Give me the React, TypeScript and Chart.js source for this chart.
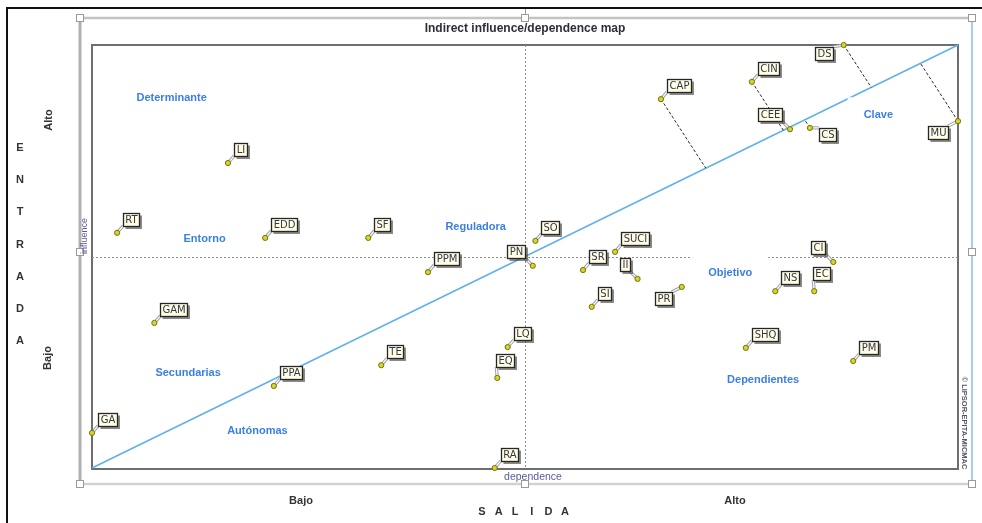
import React, { useEffect, useRef } from 'react';
import { Chart, registerables } from 'chart.js';

Chart.register(...registerables);

// ---- data (dependence = x, influence = y, both on a 0..100 scale) ----
const variables = ['LI', 'RT', 'EDD', 'SF', 'PPM', 'GAM', 'PPA', 'TE', 'GA', 'RA', 'EQ', 'LQ', 'PN', 'SO', 'SR', 'SUCI', 'II', 'SI', 'PR', 'CAP', 'CIN', 'CEE', 'CS', 'DS', 'MU', 'CI', 'NS', 'EC', 'SHQ', 'PM'];
const dependence = [15.7, 2.9, 20.0, 31.9, 38.8, 7.2, 21.0, 33.4, 0, 46.5, 46.8, 48.0, 50.9, 51.2, 56.7, 60.4, 63.0, 57.7, 68.1, 65.7, 76.2, 80.6, 82.9, 86.8, 100, 85.6, 78.9, 83.4, 75.5, 87.9];
const influence = [72.1, 55.6, 54.4, 54.4, 46.3, 34.3, 19.4, 24.3, 8.3, 0, 21.3, 28.6, 47.8, 53.7, 46.8, 51.1, 44.7, 38.1, 42.8, 87.2, 91.3, 80.1, 80.4, 100, 82.0, 48.7, 41.8, 41.8, 28.4, 25.3];
// label placement relative to each point
const labelSide = ['ur', 'ur', 'ur', 'ur', 'ur', 'ur', 'ur', 'ur', 'ur', 'ur', 'u', 'ur', 'ul', 'ur', 'ur', 'ur', 'ul', 'ur', 'dl', 'ur', 'ur', 'ul', 'r', 'l', 'dl', 'ul', 'ur', 'u', 'ur', 'ur'];
const keyVariables = ['CAP', 'CIN', 'CS', 'DS', 'MU'];

const zoneNames = ['Determinante', 'Entorno', 'Reguladora', 'Clave', 'Objetivo', 'Secundarias', 'Autónomas', 'Dependientes'];
const zoneX = [9.2, 13.0, 44.3, 90.8, 73.7, 11.1, 19.1, 77.5];
const zoneY = [87.5, 54.2, 57.0, 83.5, 46.0, 22.5, 8.8, 20.8];

const chartTitle = 'Indirect influence/dependence map';
const verticalAxisLetters = ['E', 'N', 'T', 'R', 'A', 'D', 'A'];
const horizontalAxisLetters = ['S', 'A', 'L', 'I', 'D', 'A'];
const levelLow = 'Bajo';
const levelHigh = 'Alto';
const xAxisName = 'dependence';
const yAxisName = 'influence';
const credit = '© LIPSOR-EPITA-MICMAC';

const W = 982;
const H = 523;

function line(ctx: CanvasRenderingContext2D, x1: number, y1: number, x2: number, y2: number) {
  ctx.beginPath();
  ctx.moveTo(x1, y1);
  ctx.lineTo(x2, y2);
  ctx.stroke();
}

function rotText(ctx: CanvasRenderingContext2D, text: string, x: number, y: number, angle: number) {
  ctx.save();
  ctx.translate(x, y);
  ctx.rotate(angle);
  ctx.fillText(text, 0, 0);
  ctx.restore();
}

function handle(ctx: CanvasRenderingContext2D, x: number, y: number) {
  ctx.fillStyle = '#ffffff';
  ctx.strokeStyle = '#9a9a9a';
  ctx.lineWidth = 1;
  ctx.fillRect(x - 3.5, y - 3.5, 7, 7);
  ctx.strokeRect(x - 3.5, y - 3.5, 7, 7);
}

const decorPlugin = {
  id: 'micmacDecor',
  beforeDraw(chart: any) {
    const ctx: CanvasRenderingContext2D = chart.ctx;
    const a = chart.chartArea;
    const xs = chart.scales.x;
    const ys = chart.scales.y;
    ctx.save();
    ctx.fillStyle = '#ffffff';
    ctx.fillRect(0, 0, W, H);

    // outer black frame (top and left)
    ctx.strokeStyle = '#111111';
    ctx.lineWidth = 2;
    ctx.beginPath();
    ctx.moveTo(7, H);
    ctx.lineTo(7, 8);
    ctx.lineTo(W, 8);
    ctx.stroke();

    // small connector tick above the frame
    ctx.strokeStyle = '#9a9a9a';
    ctx.lineWidth = 1;
    line(ctx, 525.5, 9, 525.5, 15);

    // selection frame
    const fl = 80, fr = 972, ft = 18, fb = 484;
    ctx.strokeStyle = '#c4c4c4';
    ctx.lineWidth = 2.5;
    line(ctx, fl, ft, fr, ft);
    ctx.strokeStyle = '#d2d2d2';
    line(ctx, fl, fb, fr, fb);
    ctx.strokeStyle = '#b0b0b0';
    ctx.lineWidth = 3;
    line(ctx, fl, ft, fl, fb);
    ctx.strokeStyle = '#a9cdf0';
    ctx.lineWidth = 2;
    line(ctx, fr, ft, fr, fb);
    handle(ctx, fl, ft);
    handle(ctx, 525, ft);
    handle(ctx, fr, ft);
    handle(ctx, fl, 252);
    handle(ctx, fr, 252);
    handle(ctx, fl, fb);
    handle(ctx, 525, fb);
    handle(ctx, fr, fb);

    // plot border
    ctx.strokeStyle = '#6e6e6e';
    ctx.lineWidth = 2;
    ctx.strokeRect(a.left, a.top, a.right - a.left, a.bottom - a.top + 1);

    // crosshair
    const cx = Math.round(xs.getPixelForValue(50)) + 0.5;
    const cy = Math.round(ys.getPixelForValue(50)) + 0.5;
    ctx.setLineDash([2, 2]);
    ctx.strokeStyle = '#8c8c8c';
    ctx.lineWidth = 1;
    line(ctx, cx, a.top, cx, a.bottom);
    line(ctx, a.left, cy, a.right, cy);
    ctx.setLineDash([]);

    // title
    ctx.fillStyle = '#2e2e3a';
    ctx.font = 'bold 12px "Liberation Sans", Arial, sans-serif';
    ctx.textAlign = 'center';
    ctx.textBaseline = 'middle';
    ctx.fillText(chartTitle, 525, 29);

    // outer axis texts
    ctx.fillStyle = '#333333';
    ctx.font = 'bold 11px "Liberation Sans", Arial, sans-serif';
    rotText(ctx, levelHigh, 49, 120, -Math.PI / 2);
    rotText(ctx, levelLow, 48, 358, -Math.PI / 2);
    ctx.fillText(levelLow, 301, 501);
    ctx.fillText(levelHigh, 735, 501);
    verticalAxisLetters.forEach((ch, i) => ctx.fillText(ch, 20, 148 + i * 32.2));
    horizontalAxisLetters.forEach((ch, i) => ctx.fillText(ch, 482 + i * 16.6, 512));

    // axis names
    ctx.fillStyle = '#5a5a9c';
    ctx.font = '10.5px "Liberation Sans", Arial, sans-serif';
    ctx.fillText(xAxisName, 533, 477);
    ctx.font = '9px "Liberation Sans", Arial, sans-serif';
    rotText(ctx, yAxisName, 85, 236, -Math.PI / 2);
    ctx.fillStyle = '#55556a';
    ctx.font = 'bold 7.5px "Liberation Sans", Arial, sans-serif';
    rotText(ctx, credit, 964, 423, Math.PI / 2);
    ctx.restore();
  },
  afterDatasetDraw(chart: any, args: any) {
    if (args.index !== 0) return;
    const ctx: CanvasRenderingContext2D = chart.ctx;
    const xs = chart.scales.x;
    const ys = chart.scales.y;
    ctx.save();

    // zone names with white backing
    ctx.font = 'bold 11px "Liberation Sans", Arial, sans-serif';
    ctx.textAlign = 'center';
    ctx.textBaseline = 'middle';
    zoneNames.forEach((name, i) => {
      const px = xs.getPixelForValue(zoneX[i]);
      const py = ys.getPixelForValue(zoneY[i]);
      const w = ctx.measureText(name).width + 32;
      ctx.fillStyle = '#ffffff';
      ctx.fillRect(px - w / 2, py - 17.5, w, 35);
      ctx.fillStyle = '#3b7fe6';
      ctx.fillText(name, px, py);
    });

    // dashed links from key variables to the diagonal
    const ax = xs.getPixelForValue(0), ay = ys.getPixelForValue(0);
    const bx = xs.getPixelForValue(100), by = ys.getPixelForValue(100);
    const dx = bx - ax, dy = by - ay;
    const th = (57 * Math.PI) / 180;
    const ux = Math.cos(th), uy = Math.sin(th);
    ctx.setLineDash([3, 2]);
    ctx.strokeStyle = '#2a2a2a';
    ctx.lineWidth = 1;
    variables.forEach((v, i) => {
      if (!keyVariables.includes(v)) return;
      const px = xs.getPixelForValue(dependence[i]);
      const py = ys.getPixelForValue(influence[i]);
      const c = dx * (py - ay) - dy * (px - ax);
      const t = -c / (dx * uy - dy * ux);
      line(ctx, px, py, px + t * ux, py + t * uy);
    });
    ctx.setLineDash([]);

    // labels
    ctx.font = '10px "DejaVu Sans", Verdana, sans-serif';
    const h = 13;
    variables.forEach((v, i) => {
      const px = xs.getPixelForValue(dependence[i]);
      const py = ys.getPixelForValue(influence[i]);
      const w = Math.round(ctx.measureText(v).width + 4);
      let bx0 = 0, by0 = 0, lx = 0, ly = 0;
      switch (labelSide[i]) {
        case 'ul': bx0 = px - 8 - w; by0 = py - 8 - h; lx = px - 8; ly = py - 8; break;
        case 'dl': bx0 = px - 10 - w; by0 = py + 5; lx = px - 10; ly = py + 5; break;
        case 'l': bx0 = px - 11 - w; by0 = py + 2; lx = px - 11; ly = py + 2; break;
        case 'r': bx0 = px + 9; by0 = py; lx = px + 9; ly = py; break;
        case 'u': bx0 = px - 1; by0 = py - 11 - h; lx = px - 1; ly = py - 11; break;
        default: bx0 = px + 6; by0 = py - 7 - h; lx = px + 6; ly = py - 7;
      }
      bx0 = Math.round(bx0) + 0.5;
      by0 = Math.round(by0) + 0.5;
      // leader
      ctx.strokeStyle = '#a0a0a0';
      ctx.lineWidth = 3.2;
      line(ctx, px, py, lx, ly);
      ctx.strokeStyle = '#ffffff';
      ctx.lineWidth = 1.2;
      line(ctx, px, py, lx, ly);
      // shadow
      ctx.fillStyle = 'rgba(60,60,60,0.6)';
      ctx.fillRect(bx0 + 2, by0 + 2, w + 0.5, h + 0.5);
      // box
      ctx.fillStyle = '#fffde2';
      ctx.fillRect(bx0, by0, w, h);
      ctx.strokeStyle = '#262626';
      ctx.lineWidth = 1.3;
      ctx.strokeRect(bx0, by0, w, h);
      ctx.fillStyle = '#34344e';
      ctx.fillText(v, bx0 + w / 2, by0 + h / 2 + 0.5);
    });
    ctx.restore();
  },
};

export default function App() {
  const ref = useRef<HTMLCanvasElement | null>(null);
  useEffect(() => {
    if (!ref.current) return;
    const points = variables.map((v, i) => ({ x: dependence[i], y: influence[i] }));
    const chart = new Chart(ref.current, {
      type: 'scatter',
      data: {
        datasets: [
          {
            type: 'line',
            label: 'diagonal',
            data: [{ x: 0, y: 0 }, { x: 100, y: 100 }],
            borderColor: '#5cb0f0',
            borderWidth: 1.4,
            pointRadius: 0,
            fill: false,
            order: 1,
            clip: false,
          } as any,
          {
            label: 'variables',
            data: points,
            pointRadius: 2.6,
            pointBackgroundColor: '#d6d52a',
            pointBorderColor: '#76720f',
            pointBorderWidth: 1,
            order: 0,
            clip: false,
          } as any,
        ],
      },
      options: {
        responsive: false,
        maintainAspectRatio: false,
        devicePixelRatio: 1,
        animation: false,
        events: [],
        layout: { padding: { left: 92, top: 45, right: 24, bottom: 55 } },
        scales: {
          x: { type: 'linear', min: 0, max: 100, display: false },
          y: { type: 'linear', min: 0, max: 100, display: false },
        },
        plugins: {
          legend: { display: false },
          tooltip: { enabled: false },
          title: { display: false },
        },
      },
      plugins: [decorPlugin],
    });
    return () => chart.destroy();
  }, []);
  return (
    <div style={{ position: 'absolute', left: 0, top: 0, width: W, height: H, background: '#fff' }}>
      <canvas ref={ref} width={W} height={H} style={{ display: 'block', width: W, height: H }} />
    </div>
  );
}
